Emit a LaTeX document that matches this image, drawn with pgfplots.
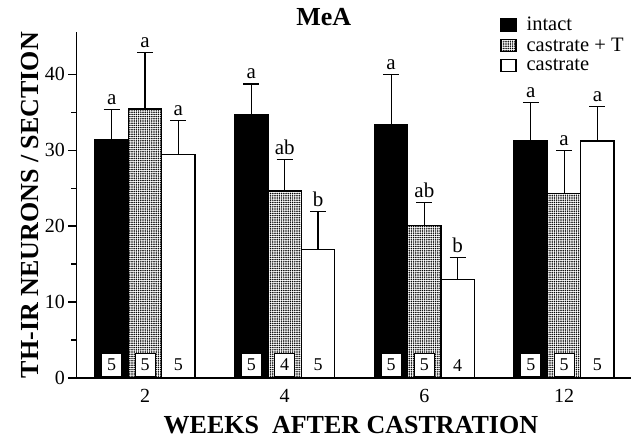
\documentclass[border=0pt]{standalone}
\usepackage{fontspec}
\setmainfont{Liberation Serif}
\usepackage{pgfplots}
\usepackage{pgfplotstable}
\pgfplotsset{compat=1.18}
\usetikzlibrary{patterns.meta}

\pgfplotstableread{
x y e
0 31.4 3.9
1 34.7 4.0
2 33.4 6.6
3 31.3 5.0
}\intact
\pgfplotstableread{
x y e
0 35.4 7.5
1 24.6 4.2
2 20.1 3.0
3 24.3 5.7
}\castT
\pgfplotstableread{
x y e
0 29.4 4.5
1 16.9 5.0
2 13.0 2.9
3 31.2 4.5
}\castrate

\pgfplotsset{
  mybar/.style={ybar, bar width=33.3pt, bar shift=0pt, draw=black, line width=1.3pt,
    legend image code/.code={\draw[##1, line width=1.5pt] (0pt,-6pt) rectangle (15pt,6pt); \path (23pt,0pt);}},
  myerr/.style={error bars/.cd, y dir=plus, y explicit,
    error bar style={line width=1.1pt, black},
    error mark=|, error mark options={mark size=8pt, line width=1.1pt, black}},
}
\newcommand\lab[3]{\node[anchor=base, yshift=5pt, inner sep=0pt, font=\fontsize{21}{24}\selectfont] at (axis cs:#1,#2) {#3};}
\newcommand\nbox[2]{\node[draw=black, line width=0.8pt, fill=white, minimum width=20pt, minimum height=23pt, inner sep=0pt, anchor=south, font=\fontsize{18}{20}\selectfont] at (axis cs:#1,0.15) {#2};}
\newcommand\nplain[2]{\node[minimum width=20pt, minimum height=23pt, inner sep=0pt, anchor=south, font=\fontsize{18}{20}\selectfont] at (axis cs:#1,0.15) {#2};}

\begin{document}
\begin{tikzpicture}
\path[use as bounding box] (-76.3pt,-62pt) rectangle (554.7pt,378pt);
\begin{axis}[
  at={(0pt,0pt)}, anchor=south west,
  scale only axis, width=554.7pt, height=345.7pt,
  xmin=-0.492, xmax=3.479, ymin=0, ymax=45.5,
  axis x line*=bottom, axis y line*=left,
  axis line style={-, line width=1.2pt},
  xtick={0,1,2,3}, xticklabels={2,4,6,12},
  x tick style={draw=none},
  ytick={0,10,20,30,40}, minor ytick={5,15,25,35},
  tick align=outside,
  major tick length=8pt, minor tick length=5pt,
  y tick style={line width=1.1pt, black},
  tick label style={font=\fontsize{20}{23}\selectfont},
  /pgf/number format/assume math mode=true,
  xlabel={WEEKS\ \ AFTER CASTRATION},
  ylabel={TH-IR NEURONS / SECTION},
  label style={font=\fontsize{26}{30}\selectfont\bfseries},
  xlabel style={at={(axis description cs:0.495,-0.136)}, anchor=center},
  ylabel style={at={(axis description cs:-0.0835,0.5)}, anchor=center},
  title={MeA},
  title style={at={(axis description cs:0.446,1)}, anchor=base, yshift=0.6pt, font=\fontsize{26}{30}\selectfont\bfseries},
  legend style={at={(axis description cs:0.7638,1.050)}, anchor=north west, draw=none, fill=none,
    font=\fontsize{20.5}{23}\selectfont, inner sep=0pt, row sep=2pt},
  legend cell align=left,
  clip=false,
]
\addplot[mybar, fill=black, myerr] table[x expr=\thisrow{x}-0.2385, y=y, y error=e] {\intact};
\addlegendentry{intact}
\addplot[mybar, pattern={Dots[distance=2.2pt, radius=0.85pt]}, pattern color=black, myerr] table[x=x, y=y, y error=e] {\castT};
\addlegendentry{castrate + T}
\addplot[mybar, fill=white, myerr] table[x expr=\thisrow{x}+0.2385, y=y, y error=e] {\castrate};
\addlegendentry{castrate}

% significance letters (at top of error caps)
\lab{-0.2385}{35.3}{a} \lab{0}{42.9}{a} \lab{0.2385}{33.9}{a}
\lab{0.7615}{38.7}{a} \lab{1}{28.8}{ab} \lab{1.2385}{21.9}{b}
\lab{1.7615}{40.0}{a} \lab{2}{23.1}{ab} \lab{2.2385}{15.9}{b}
\lab{2.7615}{36.3}{a} \lab{3}{30.0}{a} \lab{3.2385}{35.7}{a}

% sample sizes
\nbox{-0.2385}{5} \nbox{0}{5} \nplain{0.2385}{5}
\nbox{0.7615}{5} \nbox{1}{4} \nplain{1.2385}{5}
\nbox{1.7615}{5} \nbox{2}{5} \nplain{2.2385}{4}
\nbox{2.7615}{5} \nbox{3}{5} \nplain{3.2385}{5}
\end{axis}
\end{tikzpicture}
\end{document}
